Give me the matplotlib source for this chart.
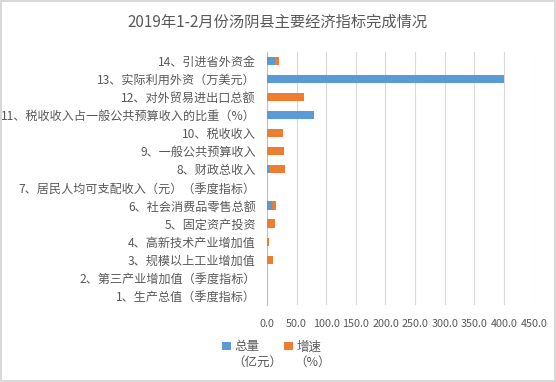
import matplotlib
matplotlib.use("Agg")
import matplotlib.pyplot as plt
import numpy as np

plt.rcParams['font.family'] = ['Noto Sans CJK SC', 'DejaVu Sans']

# 数据（自下而上）
categories = [
    "1、生产总值（季度指标）",
    "2、第三产业增加值（季度指标）",
    "3、规模以上工业增加值",
    "4、高新技术产业增加值",
    "5、固定资产投资",
    "6、社会消费品零售总额",
    "7、居民人均可支配收入（元）（季度指标）",
    "8、财政总收入",
    "9、一般公共预算收入",
    "10、税收收入",
    "11、税收收入占一般公共预算收入的比重（%）",
    "12、对外贸易进出口总额",
    "13、实际利用外资（万美元）",
    "14、引进省外资金",
]
zongliang = [0, 0, 0, 0, 0, 7.9, 0, 3.4, 1.0, 1.0, 78.7, 0, 400.5, 14.0]
zengsu = [0, 0, 9.6, 3.9, 12.9, 7.9, 0, 26.4, 27.1, 25.4, 0, 61.8, 0, 6.5]
ticks = np.arange(0, 451, 50)

blue = "#5B9BD5"
orange = "#ED7D31"
gray = "#595959"

fig = plt.figure(figsize=(5.56, 3.82), dpi=100)
fig.patch.set_edgecolor("#D9D9D9")
fig.patch.set_linewidth(1.5)
ax = fig.add_axes([0.480, 0.202, 0.480, 0.662])

y = np.arange(len(categories))
ax.barh(y, zongliang, height=0.45, color=blue, label="总量", zorder=3)
ax.barh(y, zengsu, height=0.45, left=zongliang, color=orange, label="增速", zorder=3)

ax.set_xlim(0, 450)
ax.set_ylim(-0.5, len(categories) - 0.5)
ax.set_xticks(ticks)
ax.set_xticklabels([f"{t:.1f}" for t in ticks], fontsize=7.8, color=gray)
ax.set_yticks(y)
ax.set_yticklabels(categories, fontsize=8.7, color=gray)
ax.tick_params(axis="y", length=0, pad=8)
ax.tick_params(axis="x", length=0, pad=10)
ax.grid(axis="x", color="#D9D9D9", linewidth=0.8, zorder=0)
for s in ["top", "right", "bottom"]:
    ax.spines[s].set_visible(False)
ax.spines["left"].set_color("#BFBFBF")

fig.suptitle("2019年1-2月份汤阴县主要经济指标完成情况", fontsize=11, color=gray, y=0.965)

# 图例（第二行单位单独写）
fig.legend(loc="center", bbox_to_anchor=(0.489, 0.092), ncol=2, frameon=False,
           fontsize=9, labelcolor=gray, handlelength=0.7, handleheight=0.7,
           handletextpad=0.3, columnspacing=2.0)
fig.text(0.462, 0.052, "（亿元）", fontsize=9, color=gray, ha="center", va="center")
fig.text(0.563, 0.052, "（%）", fontsize=9, color=gray, ha="center", va="center")

fig.savefig("out.png", dpi=100)
